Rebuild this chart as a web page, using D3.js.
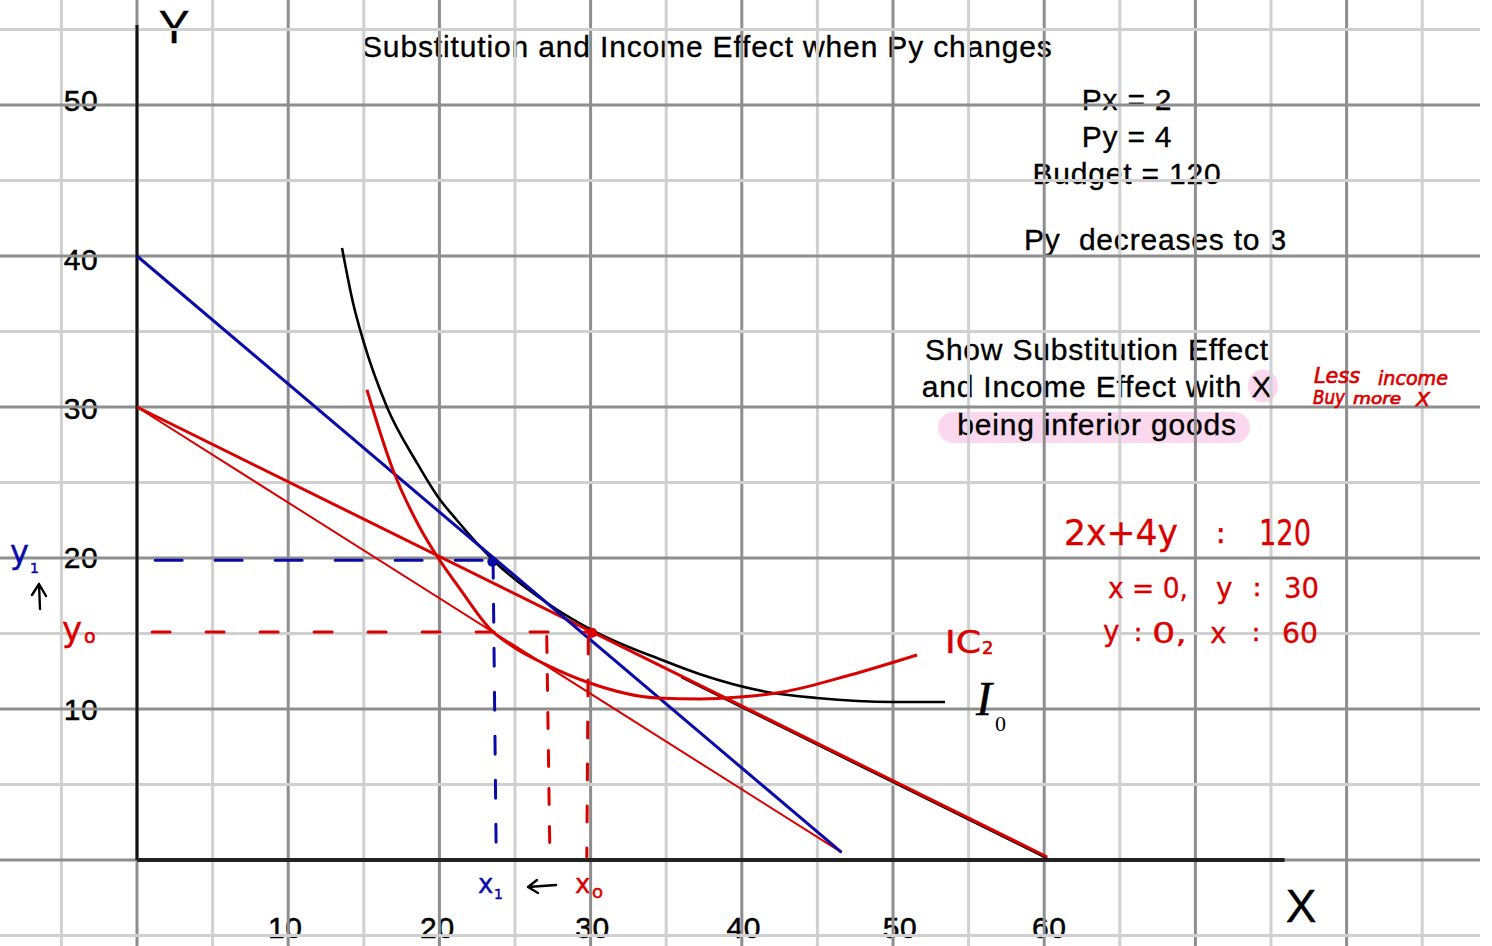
<!DOCTYPE html>
<html><head><meta charset="utf-8">
<script src="https://cdn.jsdelivr.net/npm/d3@7"></script>
<style>
html,body{margin:0;padding:0;background:#fff;}
svg{display:block;}
</style></head><body>
<svg id="c" width="1492" height="946"></svg>
<script>
// ---------- data ----------
const xTicks = [10, 20, 30, 40, 50, 60];
const yTicks = [10, 20, 30, 40, 50];
const gridXValues = d3.range(-5, 86, 5);
const gridYValues = d3.range(-5, 56, 5);

// budget lines (endpoints)
const budgetOriginal = [[0, 30], [60.2, 0.2]];      // 2x + 4y = 120 (red, thick)
const budgetNewPy = [[0, 40], [46.6, 0.5]];          // Py falls (blue)
const budgetCompensated = [[0, 30], [46.6, 0.5]];    // thin red
const blackUnderline = [[36, 12.2], [60.2, 0.2]];    // black line under red

// indifference curve I0 (black)
const i0X = [13.56, 14.29, 14.95, 16.53, 18.52, 19.91, 21.16, 23.54, 27.12, 30.09, 34.7, 37.24, 41.67, 44.97, 50.0, 53.44];
const i0Y = [40.53, 36.89, 34.44, 30.0, 26.29, 24.04, 22.5, 19.87, 17.02, 15.23, 13.25, 12.3, 11.13, 10.73, 10.46, 10.46];

// indifference curve IC2 (red)
const ic2X = [15.21, 16.93, 18.72, 19.58, 21.36, 23.35, 24.9, 27.12, 29.76, 34.39, 37.24, 39.88, 42.72, 47.16, 51.59];
const ic2Y = [31.13, 25.83, 21.99, 20.53, 17.95, 15.3, 14.1, 12.91, 11.79, 10.73, 10.66, 10.79, 11.13, 12.25, 13.58];

// optimum / reference values
const y1 = 19.85, y0 = 15.1, x1 = 23.55, x0 = 29.85, xSub = 27.1;
const dotBlue = [23.5, 19.75];
const dotRed = [30.1, 15.05];

// ---------- setup ----------
const W = 1492, H = 946;
const svg = d3.select('#c');
const x = d3.scaleLinear().domain([0, 80]).range([137, 137 + 80 * 15.12]);
const y = d3.scaleLinear().domain([0, 50]).range([860, 860 - 50 * 15.1]);

const SANS = '"Liberation Sans", Arial, Helvetica, sans-serif';
const HAND = '"DejaVu Sans", "Noto Sans", sans-serif';
const SERIF = '"Liberation Serif", "Times New Roman", serif';
const RED = '#d90000', BLUE = '#0a0aa8';

// ---------- pink highlights ----------
svg.append('rect').attr('x', 938).attr('y', 412).attr('width', 312).attr('height', 31)
  .attr('rx', 15.5).attr('fill', '#fbd8ee');
svg.append('ellipse').attr('cx', 1263).attr('cy', 386).attr('rx', 15).attr('ry', 16.5)
  .attr('fill', '#fbd8ee');

// ---------- typed text (under grid) ----------
function txt(t, px, py, opts = {}) {
  const e = svg.append('text').attr('x', px).attr('y', py).text(t)
    .attr('font-family', opts.family || SANS)
    .attr('font-size', opts.size || 30)
    .attr('fill', opts.fill || '#000')
    .attr('text-anchor', opts.anchor || 'start');
  if (opts.ls !== undefined) e.attr('letter-spacing', opts.ls);
  if (opts.style) e.attr('font-style', opts.style);
  if (opts.weight) e.attr('font-weight', opts.weight);
  if (opts.stroke) e.attr('stroke', opts.fill || '#000').attr('stroke-width', opts.stroke);
  if (opts.len) e.attr('textLength', opts.len).attr('lengthAdjust', 'spacingAndGlyphs');
  return e;
}

const T = {ls: 0.8, stroke: 0.35};
txt('Substitution and Income Effect when Py changes', 362, 57, {...T, ls: 0.85});
txt('Px = 2', 1127, 110, {...T, anchor: 'middle'});
txt('Py = 4', 1127, 147, {...T, anchor: 'middle'});
txt('Budget = 120', 1127, 184, {...T, anchor: 'middle'});
txt('Py\u00a0\u00a0decreases to 3', 1024, 250, T);
txt('Show Substitution Effect', 1097, 360, {...T, anchor: 'middle'});
txt('and Income Effect with X', 1097, 397, {...T, anchor: 'middle'});
txt('being inferior goods', 1097, 435, {...T, anchor: 'middle'});

// tick labels (small hand placement offsets as in the picture)
const yLabelDy = {10: 11, 20: 10, 30: 12, 40: 14, 50: 6};
const xLabelDx = {10: -3, 20: -2, 30: 2, 40: 2, 50: 7, 60: 5};
yTicks.forEach(v => txt(String(v), 81, y(v) + yLabelDy[v], {anchor: 'middle', ls: 0.6, stroke: 0.5}));
xTicks.forEach(v => txt(String(v), x(v) + xLabelDx[v], 938, {anchor: 'middle', ls: 0.6, stroke: 0.5}));

// axis titles
txt('Y', 174, 43, {anchor: 'middle', size: 46, stroke: 0.4});
txt('X', 1301, 922, {anchor: 'middle', size: 46, stroke: 0.4});

// ---------- grid (drawn over text) ----------
const grid = svg.append('g');
grid.selectAll('line.gx').data(gridXValues).join('line')
  .attr('x1', d => x(d)).attr('x2', d => x(d)).attr('y1', 0).attr('y2', H)
  .attr('stroke', d => d % 10 === 0 ? '#8e8e8e' : '#d0d0d0').attr('stroke-width', 3);
grid.selectAll('line.gy').data(gridYValues).join('line')
  .attr('y1', d => y(d)).attr('y2', d => y(d)).attr('x1', 0).attr('x2', 1480)
  .attr('stroke', d => d % 10 === 0 ? '#8e8e8e' : '#d0d0d0').attr('stroke-width', 3);

// axes
svg.append('line').attr('x1', x(0)).attr('x2', x(0)).attr('y1', y(55.3)).attr('y2', y(0))
  .attr('stroke', '#111').attr('stroke-width', 3);
svg.append('line').attr('x1', x(0)).attr('x2', x(75.9)).attr('y1', y(0)).attr('y2', y(0))
  .attr('stroke', '#222').attr('stroke-width', 4);

// ---------- curves ----------
const line = d3.line().x(d => x(d[0])).y(d => y(d[1]));
const curve = d3.line().x(d => x(d[0])).y(d => y(d[1])).curve(d3.curveMonotoneX);

svg.append('path').attr('d', line(blackUnderline)).attr('transform', 'translate(0,1.6)')
  .attr('fill', 'none').attr('stroke', '#000').attr('stroke-width', 2.2);
svg.append('path').attr('d', curve(d3.zip(i0X, i0Y)))
  .attr('fill', 'none').attr('stroke', '#000').attr('stroke-width', 2.6);
svg.append('path').attr('d', line(budgetCompensated))
  .attr('fill', 'none').attr('stroke', RED).attr('stroke-width', 2);
svg.append('path').attr('d', line(budgetOriginal))
  .attr('fill', 'none').attr('stroke', RED).attr('stroke-width', 3);
svg.append('path').attr('d', line(budgetNewPy))
  .attr('fill', 'none').attr('stroke', BLUE).attr('stroke-width', 3);
svg.append('path').attr('d', curve(d3.zip(ic2X, ic2Y)))
  .attr('fill', 'none').attr('stroke', RED).attr('stroke-width', 3);

// dashed guides
function dashed(pts, color, dash) {
  svg.append('path').attr('d', line(pts)).attr('fill', 'none').attr('stroke', color)
    .attr('stroke-width', 3).attr('stroke-linecap', 'round').attr('stroke-dasharray', dash);
}
dashed([[1.2, y1], [x1, y1]], BLUE, '27,33');
dashed([[1.0, y0], [x0, y0]], RED, '18,36');
dashed([[x1, y1], [x1 + 0.2, 1.0]], BLUE, '18,26');
dashed([[x0, y0 - 0.4], [x0 - 0.1, 0.2]], RED, '16,26');
dashed([[xSub, 14.8], [xSub + 0.2, 0.8]], RED, '16,22');

svg.append('circle').attr('cx', x(dotBlue[0])).attr('cy', y(dotBlue[1])).attr('r', 5).attr('fill', BLUE);
svg.append('circle').attr('cx', x(dotRed[0])).attr('cy', y(dotRed[1])).attr('r', 5).attr('fill', RED);

// ---------- handwritten annotations ----------
const Hs = {family: HAND, stroke: 0.7};
txt('Less', 1314, 383, {...Hs, size: 21, fill: RED, len: 46, style: 'italic'});
txt('income', 1378, 385, {...Hs, size: 19, fill: RED, len: 70, style: 'italic'});
txt('Buy', 1313, 404, {...Hs, size: 19, fill: RED, len: 32, style: 'italic'});
txt('more', 1353, 404, {...Hs, size: 15, fill: RED, len: 48, style: 'italic'});
txt('X', 1416, 406, {...Hs, size: 19, fill: RED, len: 14, style: 'italic'});

txt('2x+4y', 1064, 545, {...Hs, size: 36, fill: RED, len: 114, stroke: 0.3});
txt(':', 1216, 543, {...Hs, size: 28, fill: RED});
txt('120', 1259, 545, {...Hs, size: 36, fill: RED, len: 52, stroke: 0.3});
txt('x = 0,', 1108, 598, {...Hs, size: 28, fill: RED, len: 80, stroke: 0.3});
txt('y', 1216, 598, {...Hs, size: 28, fill: RED, stroke: 0.3});
txt(':', 1253, 596, {...Hs, size: 24, fill: RED});
txt('30', 1284, 598, {...Hs, size: 28, fill: RED, len: 35, stroke: 0.3});
txt('y', 1103, 641, {...Hs, size: 28, fill: RED, stroke: 0.3});
txt(':', 1134, 641, {...Hs, size: 24, fill: RED});
txt('0,', 1152, 643, {...Hs, size: 28, fill: RED, len: 35, stroke: 0.3});
txt('x', 1210, 643, {...Hs, size: 28, fill: RED, stroke: 0.3});
txt(':', 1252, 641, {...Hs, size: 24, fill: RED});
txt('60', 1282, 643, {...Hs, size: 28, fill: RED, len: 36, stroke: 0.3});

txt('IC', 945, 653, {...Hs, size: 32, fill: RED, len: 36, stroke: 0.5});
txt('2', 982, 654, {...Hs, size: 18, fill: RED, stroke: 0.6});

txt('I', 976, 715, {family: SERIF, size: 48, style: 'italic', stroke: 0.4});
txt('0', 995, 731, {family: SERIF, size: 22});

txt('y', 10, 563, {...Hs, size: 32, fill: BLUE, stroke: 0.4});
txt('1', 30, 573, {...Hs, size: 14, fill: BLUE, stroke: 0.5});
txt('y', 62, 641, {...Hs, size: 34, fill: RED, stroke: 0.4});
txt('o', 84, 643, {...Hs, size: 19, fill: RED, stroke: 0.6});

txt('x', 478, 893, {...Hs, size: 26, fill: BLUE, stroke: 0.4});
txt('1', 494, 899, {...Hs, size: 14, fill: BLUE, stroke: 0.5});
txt('x', 575, 893, {...Hs, size: 26, fill: RED, stroke: 0.4});
txt('o', 592, 898, {...Hs, size: 18, fill: RED, stroke: 0.6});

// little arrows
const arrows = svg.append('g').attr('fill', 'none').attr('stroke', '#000').attr('stroke-width', 2.4)
  .attr('stroke-linecap', 'round').attr('stroke-linejoin', 'round');
arrows.append('path').attr('d', 'M40,609 L39,584 M32,595 L39,584 L46,596');
arrows.append('path').attr('d', 'M556,885 L528,887 M537,880 L528,887 L538,893');
</script>
</body></html>
